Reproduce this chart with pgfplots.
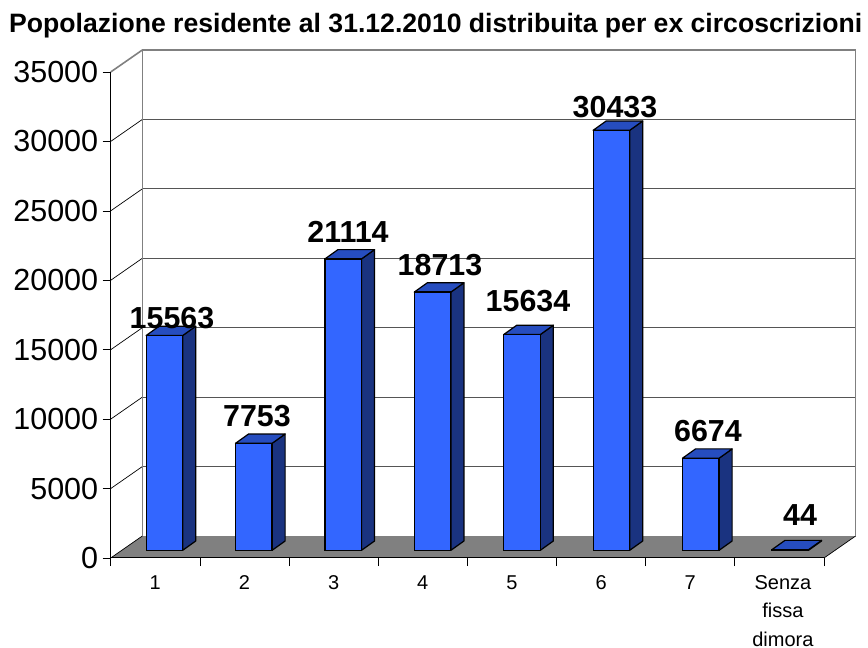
\documentclass[border=0pt]{standalone}
\usepackage{pgfplots}
\pgfplotsset{compat=1.18}
\usepackage{fontspec}
\setmainfont{Liberation Sans}
\definecolor{barfront}{HTML}{3366FF}
\definecolor{barside}{HTML}{1A3380}
\definecolor{bartop}{HTML}{264DBF}
\definecolor{floorgray}{HTML}{808080}
\definecolor{gridc}{HTML}{555555}
\newcommand\barfaces[3]{%
  \pgfmathsetmacro\xa{#1-0.2047}%
  \pgfmathsetmacro\xb{#1+0.2047}%
  \pgfmathsetmacro\xc{#1+0.2047+0.1458}%
  \pgfmathsetmacro\xd{#1-0.2047+0.1458}%
  \addplot[fill=barside,draw=black,line width=1.2pt,line join=round] coordinates {(\xb,0) (\xc,674) (\xc,#3) (\xb,#2)} -- cycle;
  \addplot[fill=bartop,draw=black,line width=1.2pt,line join=round] coordinates {(\xa,#2) (\xb,#2) (\xc,#3) (\xd,#3)} -- cycle;
}
\newcommand\grid[2]{%
  \addplot[draw=black,line width=0.7pt] coordinates {(0,#1) (0.3547,#2)};
  \addplot[draw=gridc,line width=0.9pt] coordinates {(0.3547,#2) (8.3547,#2)};
}
\begin{document}
\begin{tikzpicture}[x=1pt,y=1pt]
\path[use as bounding box] (0,0) rectangle (868,648);
\begin{axis}[
  at={(110.7pt,90pt)}, anchor=south west, scale only axis,
  width=713.3pt, height=486pt,
  xmin=0, xmax=8, ymin=0, ymax=35000, clip=false,
  axis lines=left, axis line style={-,black,line width=1pt},
  axis on top,
  tick align=outside, major tick length=8pt,
  tick style={black,line width=0.7pt},
  xtick={0,...,8}, x tick label as interval,
  xticklabels={1,2,3,4,5,6,7,{\hspace*{7pt}Senza\\\hspace*{7pt}fissa\\\hspace*{7pt}dimora}},
  xticklabel style={align=center,font=\fontsize{20}{28.5}\selectfont,anchor=north,yshift=-6pt},
  ytick={0,5000,...,35000},
  scaled y ticks=false,
  yticklabel style={font=\fontsize{30.5}{36}\selectfont,xshift=-1pt,/pgf/number format/fixed},
  /pgf/number format/assume math mode=true,
  /pgf/number format/1000 sep={},
]
\addplot[fill=floorgray,draw=none] coordinates {(0,0) (8,0) (8.3547,1584) (0.3547,1584)} -- cycle;
\grid{5000}{6584}\grid{10000}{11584}\grid{15000}{16584}\grid{20000}{21584}\grid{25000}{26584}\grid{30000}{31584}
\addplot[draw=black,line width=0.7pt] coordinates {(8,0) (8.3547,1584)};
\addplot[draw=black,line width=0.7pt] coordinates {(0,0) (0.3547,1584)};
\addplot[draw=floorgray,line width=1.6pt] coordinates {(0.3547,1584) (0.3547,36584) (8.3547,36584) (8.3547,1584)};
\addplot[draw=floorgray,line width=1.6pt] coordinates {(0,35000) (0.3547,36584)};
\end{axis}
\begin{axis}[
  at={(119.7pt,97.7pt)}, anchor=south west, scale only axis,
  width=715.2pt, height=483pt,
  xmin=0, xmax=8, ymin=0, ymax=35000, clip=false,
  hide axis,
]
\barfaces{0.5}{15563}{16237}
\barfaces{1.5}{7753}{8427}
\barfaces{2.5}{21114}{21788}
\barfaces{3.5}{18713}{19387}
\barfaces{4.5}{15634}{16308}
\barfaces{5.5}{30433}{31107}
\barfaces{6.5}{6674}{7348}
\barfaces{7.5}{44}{718}
\addplot[ybar,bar width=36.5pt,fill=barfront,draw=black,line width=1.2pt] coordinates {
(0.5,15563) (1.5,7753) (2.5,21114) (3.5,18713) (4.5,15634) (5.5,30433) (6.5,6674) (7.5,44)};
\end{axis}
\node[font=\fontsize{26.6}{30}\selectfont\bfseries,inner sep=0pt,anchor=base west] at (9,615) {Popolazione residente al 31.12.2010 distribuita per ex circoscrizioni};
\tikzset{vl/.style={anchor=base,font=\fontsize{30.4}{36}\selectfont\bfseries,inner sep=0pt}}
\node[vl] at (172,319) {15563};
\node[vl] at (257,221) {7753};
\node[vl] at (348,405) {21114};
\node[vl] at (440,372) {18713};
\node[vl] at (528,336) {15634};
\node[vl] at (615,530) {30433};
\node[vl] at (708,206) {6674};
\node[vl] at (800,122) {44};
\end{tikzpicture}
\end{document}
